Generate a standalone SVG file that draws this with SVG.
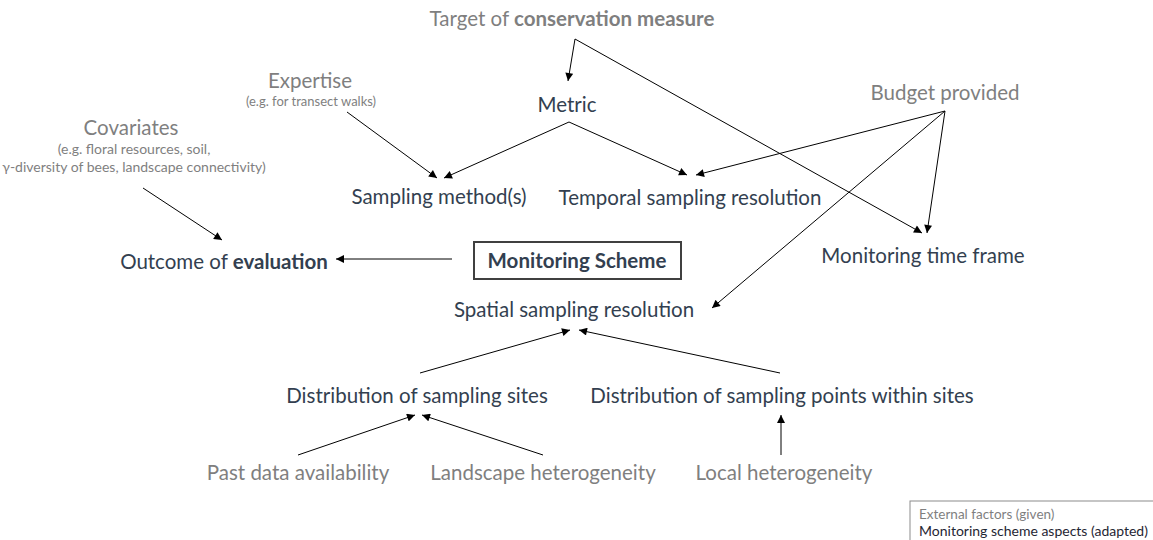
<svg xmlns="http://www.w3.org/2000/svg" width="1153" height="540" viewBox="0 0 1153 540">
<defs>
<marker id="ah" viewBox="0 0 10 10" refX="10" refY="5" markerWidth="9" markerHeight="8" markerUnits="userSpaceOnUse" orient="auto">
<path d="M0,0 L10,5 L0,10 z" fill="#000"/>
</marker>
<style>
text{font-family:Lato,"Open Sans","Liberation Sans",sans-serif;}
.ext{fill:#7f7f7f;font-size:20.5px;}
.asp{fill:#333f50;font-size:20.5px;}
.sm{fill:#7f7f7f;}
.b{font-weight:bold;}
.c line{stroke:#000;stroke-width:1;marker-end:url(#ah);}
</style>
</defs>
<rect width="1153" height="540" fill="#fff"/>
<g class="c" id="connectors">
<line x1="575" y1="39" x2="568" y2="81"/>
<line x1="575" y1="39" x2="922" y2="233"/>
<line x1="347" y1="112" x2="437" y2="178"/>
<line x1="569" y1="122" x2="444" y2="178"/>
<line x1="569" y1="122" x2="687" y2="175"/>
<line x1="945" y1="111" x2="696" y2="175"/>
<line x1="945" y1="111" x2="712" y2="308"/>
<line x1="945" y1="111" x2="927" y2="233"/>
<line x1="143" y1="188" x2="222" y2="240"/>
<line x1="452" y1="259" x2="336" y2="259"/>
<line x1="420" y1="373" x2="570" y2="330"/>
<line x1="780" y1="373" x2="579" y2="330"/>
<line x1="298" y1="455" x2="415" y2="415"/>
<line x1="543" y1="455" x2="422" y2="415"/>
<line x1="781" y1="455" x2="781" y2="415"/>
</g>
<g id="target"><text class="ext" x="572" y="26" text-anchor="middle" font-size="21">Target of <tspan class="b">conservation measure</tspan></text></g>
<g id="expertise"><text class="ext" x="310" y="88" text-anchor="middle">Expertise</text><text class="sm" x="311" y="106" text-anchor="middle" font-size="13">(e.g. for transect walks)</text></g>
<g id="metric"><text class="asp" x="567" y="112" text-anchor="middle">Metric</text></g>
<g id="budget"><text class="ext" x="945" y="100" text-anchor="middle">Budget provided</text></g>
<g id="covariates"><text class="ext" x="131" y="135" text-anchor="middle">Covariates</text><text class="sm" x="134" y="154" text-anchor="middle" font-size="14">(e.g. floral resources, soil,</text><text class="sm" x="134" y="172" text-anchor="middle" font-size="14">γ-diversity of bees, landscape connectivity)</text></g>
<g id="sampling-method"><text class="asp" x="439" y="204" text-anchor="middle">Sampling method(s)</text></g>
<g id="temporal"><text class="asp" x="690" y="205" text-anchor="middle">Temporal sampling resolution</text></g>
<g id="outcome"><text class="asp" x="224" y="269" text-anchor="middle">Outcome of <tspan class="b">evaluation</tspan></text></g>
<g id="scheme"><rect x="474" y="242" width="207" height="37" fill="none" stroke="#404040" stroke-width="2"/><text class="asp b" x="577" y="268" text-anchor="middle">Monitoring Scheme</text></g>
<g id="timeframe"><text class="asp" x="923" y="263" text-anchor="middle">Monitoring time frame</text></g>
<g id="spatial"><text class="asp" x="574" y="317" text-anchor="middle">Spatial sampling resolution</text></g>
<g id="sites"><text class="asp" x="417" y="403" text-anchor="middle">Distribution of sampling sites</text></g>
<g id="points"><text class="asp" x="782" y="403" text-anchor="middle">Distribution of sampling points within sites</text></g>
<g id="pastdata"><text class="ext" x="298" y="480" text-anchor="middle">Past data availability</text></g>
<g id="landscape"><text class="ext" x="543" y="480" text-anchor="middle">Landscape heterogeneity</text></g>
<g id="local"><text class="ext" x="784" y="480" text-anchor="middle">Local heterogeneity</text></g>
<g id="legend"><rect x="910" y="501" width="260" height="60" fill="none" stroke="#8c8c8c" stroke-width="1"/><text x="919" y="519" font-size="13.5" fill="#7f7f7f">External factors (given)</text><text x="919" y="536" font-size="14" fill="#1f2633">Monitoring scheme aspects (adapted)</text></g>
</svg>
